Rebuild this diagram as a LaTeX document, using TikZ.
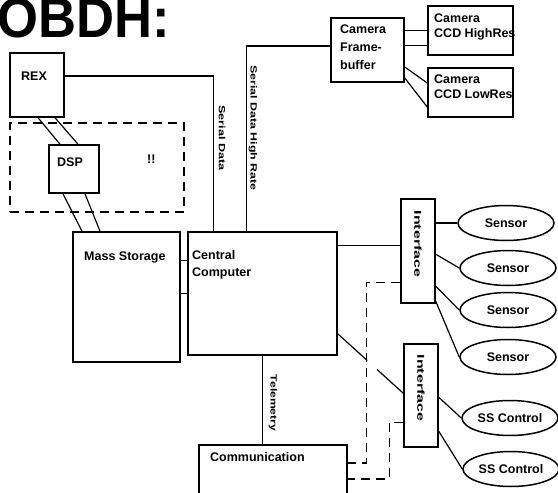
\documentclass[tikz,border=0pt]{standalone}
\usepackage{fontspec}
\setmainfont{Liberation Sans}
\usetikzlibrary{shapes.geometric,calc}

\newcommand\boxfont{\fontsize{12.5}{17}\selectfont\bfseries}
\newcommand\tagfont{\fontsize{9}{9}\selectfont\bfseries}

\begin{document}
\begin{tikzpicture}[x=1pt, y=-1pt,
    box/.style={draw, line width=1.5pt, inner sep=0pt},
    txt/.style={font=\boxfont, inner sep=0pt, anchor=north west, align=left},
    unit/.style={ellipse, draw, line width=1.5pt, inner sep=0pt,
      minimum width=96pt, minimum height=35pt, font=\boxfont},
    tag/.style={rotate=-90, font=\tagfont, inner sep=0pt},
    wire/.style={line width=1.2pt},
    dashwire/.style={line width=1.5pt, dash pattern=on 9pt off 6pt}
  ]
  \useasboundingbox (0,0) rectangle (558,493);
  \clip (0,0) rectangle (558,493);

  \node[font=\fontsize{56}{56}\selectfont\bfseries, xscale=0.94, anchor=base west,
    inner sep=0pt] (title) at (-3,37) {OBDH:};

  % boxes
  \node[box, minimum width=54pt, minimum height=64pt] (rex) at (37,85) {};
  \node[box, dashwire, minimum width=174pt, minimum height=89pt] (grp) at (97,167.5) {};
  \node[box, minimum width=50pt, minimum height=48pt] (dsp) at (74,169) {};
  \node[box, minimum width=107pt, minimum height=130pt] (ms) at (126.5,297) {};
  \node[box, minimum width=149pt, minimum height=123pt] (cc) at (262.5,293.5) {};
  \node[box, minimum width=73pt, minimum height=64pt] (fb) at (367.5,50) {};
  \node[box, minimum width=85pt, minimum height=49pt] (hi) at (470.5,30.5) {};
  \node[box, minimum width=85pt, minimum height=49pt] (lo) at (470.5,92.5) {};
  \node[box, minimum width=34pt, minimum height=104pt] (if1) at (418,251) {};
  \node[box, minimum width=34pt, minimum height=103pt] (if2) at (421,395.5) {};
  \node[box, minimum width=148pt, minimum height=74pt] (comm) at (273,482) {};

  % sensors and controls
  \node[unit] (s1) at (506,223) {Sensor};
  \node[unit] (s2) at (508,268) {Sensor};
  \node[unit] (s3) at (508,310) {Sensor};
  \node[unit] (s4) at (508,357) {Sensor};
  \node[unit] (c1) at (510,418) {SS Control};
  \node[unit] (c2) at (511,469) {SS Control};

  % box texts
  \node[txt] (rexlbl) at (21,72) {REX};
  \node[txt] (dsplbl) at (57,158) {DSP};
  \node[txt] (mark) at (147,155) {!!};
  \node[txt] (mslbl) at (84,252) {Mass Storage};
  \node[txt] (cclbl) at (192,250) {Central\\Computer};
  \node[txt, font=\fontsize{12.5}{18}\selectfont\bfseries] (fblbl) at (340,25) {Camera\\Frame-\\buffer};
  \node[txt, font=\fontsize{12.5}{15}\selectfont\bfseries] (hilbl) at (434,14) {Camera\\CCD HighRes};
  \node[txt, font=\fontsize{12.5}{15}\selectfont\bfseries] (lolbl) at (434,75) {Camera\\CCD LowRes};
  \node[txt] (commlbl) at (210,452) {Communication};

  % line labels
  \node[tag] (serlbl) at (222,138) {\scalebox{1.4}[1]{Serial Data}};
  \node[tag] (hrlbl) at (253,128) {\scalebox{1.38}[1]{Serial Data High Rate}};
  \node[tag] (tmlbl) at (273,403) {\scalebox{1.35}[1]{Telemetry}};
  \node[tag, font=\fontsize{10}{10}\selectfont\bfseries] (if1lbl) at (418,244) {\scalebox{1.6}[1]{Interface}};
  \node[tag, font=\fontsize{10}{10}\selectfont\bfseries] (if2lbl) at (421,388) {\scalebox{1.6}[1]{Interface}};

  % REX, DSP, storage
  \draw[wire] ([xshift=1pt]rex.south) -- ([xshift=-14pt]dsp.north);
  \draw[wire] ([xshift=18pt]rex.south) -- ([xshift=4pt]dsp.north);
  \draw[wire] ([xshift=-11pt]dsp.south) -- ([xshift=-44.5pt]ms.north);
  \draw[wire] ([xshift=11pt]dsp.south) -- ([xshift=-26.5pt]ms.north);
  \draw[wire] ([yshift=9pt]rex.east) -| ([xshift=26pt]cc.north west);
  \draw[wire] ([yshift=4pt]fb.west) -| ([xshift=59pt]cc.north west);
  \coordinate (bus1) at ([yshift=-29pt]cc.north west);
  \coordinate (bus2) at ([yshift=-62pt]cc.north west);
  \draw[wire] (bus1) -- (bus1 -| ms.east);
  \draw[wire] (bus2) -- (bus2 -| ms.east);

  % cameras
  \draw[wire] (hi.west) -- (hi.west -| fb.east);
  \coordinate (hi2) at ([yshift=-15pt]hi.west);
  \draw[wire] (hi2) -- (hi2 -| fb.east);
  \draw[wire] ([yshift=-17pt]fb.east) -- ([yshift=9.5pt]lo.west);
  \draw[wire] ([yshift=-28pt]fb.east) -- ([yshift=-14.5pt]lo.west);

  % computer to interfaces
  \coordinate (if1in) at ([yshift=-47pt]if1.north west);
  \draw[wire] (if1in) -- (if1in -| cc.east);
  \coordinate (ccout) at ([yshift=22pt]cc.south east);
  \coordinate (if2in) at ([yshift=-50pt]if2.north west);
  \draw[wire] (ccout) -- ($(ccout)!0.45!(if2in)$);
  \draw[wire] ($(ccout)!0.6!(if2in)$) -- (if2in);

  % interfaces to sensors
  \draw[wire] (s1.west -| if1.east) -- (s1.west);
  \draw[wire] ([yshift=-56pt]if1.north east) -- (s2.west);
  \draw[wire] ([yshift=-88pt]if1.north east) -- (s3.west);
  \draw[wire] ([yshift=-103pt]if1.north east) -- (s4.west);
  \draw[wire] ([yshift=-54pt]if2.north east) -- (c1.west);
  \draw[wire] ([yshift=-88pt]if2.north east) -- (c2.west);

  % telemetry
  \draw[wire] (cc.south) -- (cc.south |- comm.north);
  \draw[dashwire] ([yshift=-84pt]if1.north west) -- ++(-34,0) |- ([yshift=19pt]comm.east);
  \draw[dashwire] ([yshift=-79pt]if2.north west) -- ++(-14,0) |- ([yshift=3pt]comm.east);
\end{tikzpicture}
\end{document}
